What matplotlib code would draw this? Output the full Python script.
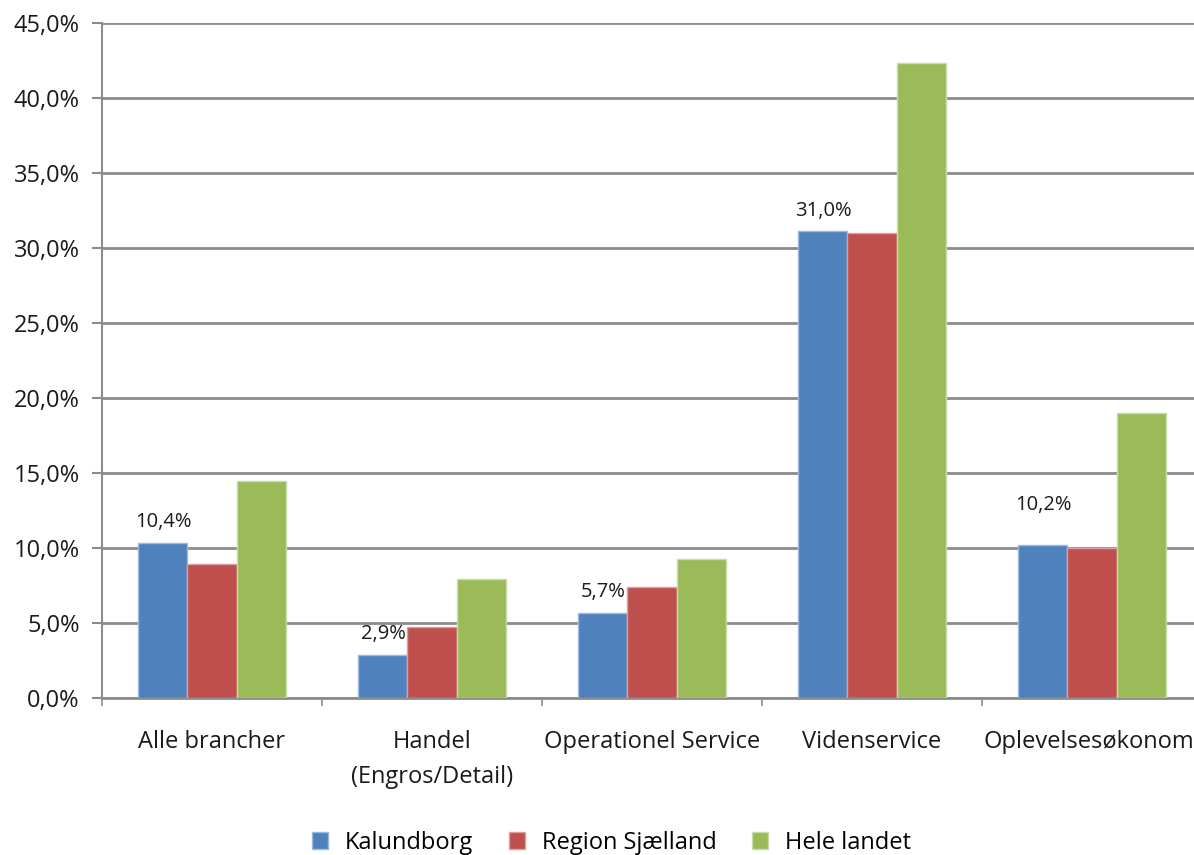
import matplotlib

matplotlib.use('Agg')
from matplotlib import pyplot as plt
from matplotlib.ticker import FuncFormatter
import numpy as np

categories = ['Alle brancher', 'Handel\n(Engros/Detail)', 'Operationel Service',
              'Videnservice', 'Oplevelsesøkonomi']
kalundborg = [10.35, 2.9, 5.7, 31.1, 10.2]
region_sjaelland = [8.95, 4.75, 7.4, 31.0, 10.0]
hele_landet = [14.45, 7.95, 9.3, 42.3, 19.0]
series_names = ['Kalundborg', 'Region Sjælland', 'Hele landet']
kalundborg_labels = ['10,4%', '2,9%', '5,7%', '31,0%', '10,2%']
label_offsets = [11, 11, 11, 11, 25]

colors = ['#4F81BD', '#C0504D', '#9BBB59']
edges = ['#9DB9DD', '#DDA09E', '#C8DBA8']

plt.rcParams['font.family'] = ['Open Sans', 'DejaVu Sans']

fig = plt.figure(figsize=(11.94, 8.55), dpi=100)
ax = fig.add_axes([102 / 1194, 1 - 698 / 855, 1100 / 1194, 675 / 855])

x = np.arange(len(categories))
w = 0.223
for i, (vals, name) in enumerate(zip([kalundborg, region_sjaelland, hele_landet], series_names)):
    ax.bar(x + (i - 1) * w, vals, w, color=colors[i], edgecolor=edges[i], linewidth=1,
           label=name, zorder=3)

for xi, v, lab, off in zip(x, kalundborg, kalundborg_labels, label_offsets):
    ax.annotate(lab, (xi - w, v), xytext=(0, off), textcoords='offset points',
                ha='center', va='baseline', fontsize=14.5, color='#1a1a1a')

ax.set_xlim(-0.5, len(categories) - 0.5)
ax.set_ylim(0, 45)
ax.set_yticks(np.arange(0, 46, 5))
ax.yaxis.set_major_formatter(FuncFormatter(lambda v, p: ('%.1f' % v).replace('.', ',') + '%'))
ax.yaxis.grid(True, color='#8c8c8c', linewidth=2, zorder=0)
ax.set_axisbelow(True)

ax.set_xticks(x)
ax.set_xticklabels(categories, fontsize=17, color='#1a1a1a')
for t in ax.get_xticklabels():
    t.set_linespacing(1.6)
ax.tick_params(axis='x', length=0, pad=23)
ax.set_xticks(np.arange(-0.5, len(categories) + 0.5, 1), minor=True)
ax.tick_params(axis='x', which='minor', length=6, width=1.2, color='#8c8c8c')
ax.tick_params(axis='y', labelsize=17, labelcolor='#1a1a1a', length=7, width=1.5,
               color='#8c8c8c', pad=9)

for s in ['top', 'right']:
    ax.spines[s].set_visible(False)
ax.spines['left'].set_color('#8c8c8c')
ax.spines['left'].set_linewidth(1.5)
ax.spines['bottom'].set_color('#8c8c8c')
ax.spines['bottom'].set_linewidth(2)

fig.legend(loc='center', bbox_to_anchor=(0.512, 1 - 843 / 855), ncol=3, frameon=False,
           fontsize=17, handlelength=0.7, handleheight=0.7, columnspacing=1.5, handletextpad=0.7)

fig.savefig('out.png', dpi=100)
